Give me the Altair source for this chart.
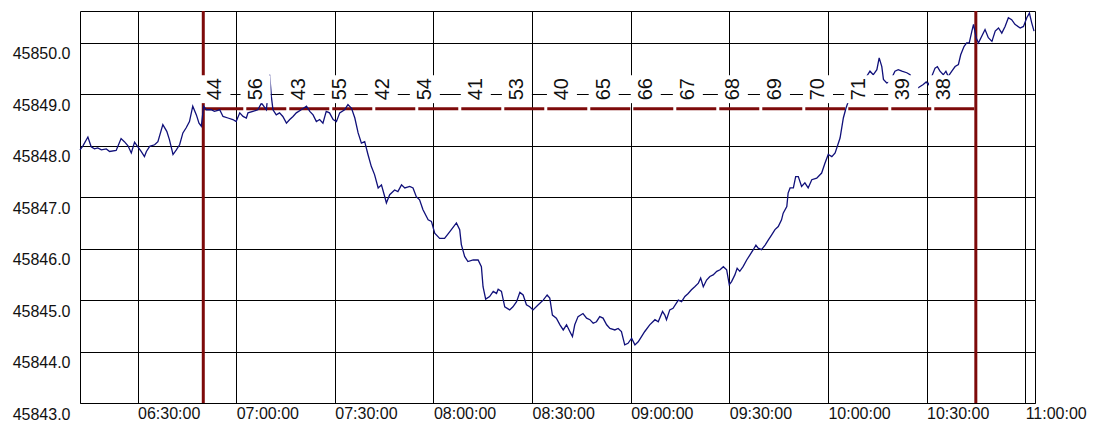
import altair as alt
import pandas as pd

# ---- data (minutes after 06:00, price) ----
minutes = [12.5, 13.4, 14.9, 15.9, 16.9, 17.9, 19.0, 20.5, 21.5, 23.5, 25.0, 26.0, 27.1, 28.1, 29.1,
           30.1, 31.1, 32.1, 32.7, 33.7, 35.2, 36.2, 37.7, 38.9, 39.7, 40.8, 41.8, 42.8, 43.8, 44.8,
           45.8, 46.8, 47.9, 48.7, 49.4, 50.1, 50.9, 52.4, 53.4, 55.0, 56.0, 57.5, 59.0, 60.0, 61.1,
           62.1, 63.1, 63.6, 65.1, 66.6, 67.7, 69.2, 70.2, 70.7,
           71.2, 72.2, 73.2, 74.2, 75.3, 76.3, 77.3, 78.3, 79.8, 81.4, 82.4, 83.4, 84.4, 85.4, 86.4,
           87.4, 88.4, 89.5, 90.5, 91.5, 93.0, 94.0, 95.1, 96.1, 97.1, 98.1, 99.1, 100.1, 101.1, 102.1,
           103.2, 104.2, 105.2, 105.7, 106.7, 108.2, 109.2, 110.3, 111.3, 112.8, 113.8, 114.8, 115.8,
           116.8, 118.4, 119.4, 120.4, 121.9, 123.4, 125.0, 127.0, 128.0,
           128.5, 129.5, 130.5, 132.1, 133.6, 134.6, 135.1, 135.9, 137.1, 138.2, 139.2, 139.7, 140.7,
           141.7, 143.2, 144.2, 145.3, 146.3, 147.3, 148.3, 149.3, 150.3, 151.9, 153.4, 154.6, 155.4,
           156.2, 157.4, 158.5, 159.5, 160.5, 161.5, 162.3, 163.0, 164.0, 165.5, 166.6, 167.6, 168.6,
           169.6, 170.6, 171.6, 172.7, 173.7, 175.2, 176.2, 177.2, 178.2, 179.2, 180.3, 181.3, 182.3,
           183.3, 184.3,
           185.8, 187.4, 188.4, 189.7, 190.4, 190.9, 191.9, 192.9, 194.5, 195.5, 196.5, 197.5, 198.5,
           199.5, 200.6, 201.3, 202.1, 203.1, 204.1, 205.1, 206.2, 207.2, 208.2, 209.2, 210.0, 210.7,
           211.7, 212.4, 213.2, 214.2, 215.3, 216.3, 217.3, 218.1, 218.8, 219.8, 220.9, 221.9, 222.9,
           223.9, 224.9, 225.9, 226.4, 227.5, 227.9, 228.5, 229.5, 230.2, 231.0, 232.0, 233.0, 234.0,
           235.1, 236.6, 238.1, 239.1, 240.1, 241.2, 242.2,
           243.7, 244.7, 245.5, 246.2, 248.9, 251.8, 252.8, 253.8, 254.9, 255.6, 256.4, 256.9, 257.9,
           258.9, 260.4, 261.4, 262.5, 264.0, 265.0, 266.5, 269.0, 269.9, 270.6, 272.6, 273.3, 274.1,
           275.1, 275.9, 276.6, 277.7, 278.7, 279.7, 280.4, 281.4, 282.2, 283.0, 283.8, 284.3, 285.1,
           285.8, 286.8, 287.8, 288.8, 289.9, 290.9, 291.9, 292.9, 293.9, 294.9, 295.9, 296.9, 298.5,
           299.5, 300.5, 301.3, 302.0, 302.7]

prices = [45847.92, 45848.00, 45848.17, 45847.98, 45847.94, 45847.96, 45847.92, 45847.94, 45847.89,
          45847.91, 45848.14, 45848.08, 45848.00, 45847.86, 45848.07, 45847.98, 45847.89, 45847.79,
          45847.89, 45847.99, 45848.02, 45848.08, 45848.41, 45848.28, 45848.12, 45847.83, 45847.92,
          45848.02, 45848.25, 45848.35, 45848.47, 45848.77, 45848.60, 45848.44, 45848.38, 45848.77,
          45848.70, 45848.70, 45848.67, 45848.70, 45848.57, 45848.54, 45848.51, 45848.47, 45848.64,
          45848.57, 45848.54, 45848.64, 45848.67, 45848.70, 45848.83, 45848.70, 45849.38, 45848.96,
          45848.70, 45848.60, 45848.64, 45848.57, 45848.44, 45848.51, 45848.57, 45848.64, 45848.70,
          45848.77, 45848.67, 45848.60, 45848.47, 45848.51, 45848.44, 45848.67, 45848.64, 45848.51,
          45848.47, 45848.64, 45848.70, 45848.80, 45848.73, 45848.54, 45848.25, 45848.05, 45848.08,
          45847.83, 45847.60, 45847.44, 45847.18, 45847.24, 45847.01, 45846.89, 45847.05, 45847.14,
          45847.11, 45847.24, 45847.18, 45847.21, 45847.18, 45847.01, 45846.95, 45846.76, 45846.56,
          45846.53, 45846.30, 45846.20, 45846.20, 45846.33, 45846.50, 45846.37,
          45846.08, 45845.85, 45845.75, 45845.78, 45845.78, 45845.65, 45845.26, 45845.02, 45845.07,
          45845.17, 45845.13, 45845.21, 45845.17, 45844.87, 45844.81, 45844.87, 45844.97, 45845.15,
          45845.10, 45844.91, 45844.87, 45844.81, 45844.91, 45845.00, 45845.10, 45845.04, 45844.71,
          45844.65, 45844.52, 45844.42, 45844.52, 45844.39, 45844.29, 45844.52, 45844.68, 45844.74,
          45844.65, 45844.62, 45844.55, 45844.58, 45844.68, 45844.65, 45844.52, 45844.45, 45844.42,
          45844.45, 45844.39, 45844.13, 45844.16, 45844.26, 45844.13, 45844.19, 45844.29, 45844.39,
          45844.52, 45844.62, 45844.58, 45844.78, 45844.71, 45844.62, 45844.81, 45844.84, 45845.00,
          45844.97, 45845.07, 45845.13, 45845.20, 45845.26, 45845.33, 45845.43, 45845.26, 45845.39,
          45845.46, 45845.49, 45845.56, 45845.59, 45845.65, 45845.59, 45845.30, 45845.36, 45845.49,
          45845.62, 45845.56, 45845.65, 45845.78, 45845.88, 45845.98, 45846.07, 45846.01, 45845.98,
          45846.07, 45846.17, 45846.27, 45846.37, 45846.43, 45846.56, 45846.69, 45846.82, 45847.08,
          45847.18, 45847.18, 45847.40, 45847.40, 45847.21, 45847.28, 45847.18, 45847.34, 45847.37,
          45847.47, 45847.66, 45847.83, 45847.79, 45847.86,
          45848.15, 45848.54, 45848.73, 45848.86, 45849.13, 45849.35, 45849.45, 45849.38, 45849.48,
          45849.71, 45849.54, 45849.29, 45849.22, 45849.25, 45849.45, 45849.48, 45849.45, 45849.42,
          45849.38, 45849.09, 45849.19, 45849.24, 45849.19, 45849.51, 45849.54, 45849.45, 45849.38,
          45849.45, 45849.35, 45849.45, 45849.54, 45849.58, 45849.77, 45849.93, 45850.00, 45850.00,
          45850.23, 45850.36, 45850.10, 45850.00, 45850.13, 45850.26, 45850.10, 45850.03, 45850.23,
          45850.29, 45850.19, 45850.32, 45850.49, 45850.45, 45850.36, 45850.29, 45850.32, 45850.49,
          45850.58, 45850.39, 45850.23]

level_labels = ["44", "56", "43", "55", "42", "54", "41", "53", "40", "65", "66", "67", "68", "69",
                "70", "71", "39", "38"]
level_minutes = [53.7, 65.9, 79.0, 91.5, 104.6, 117.4, 132.9, 145.4, 159.1, 171.8, 184.6, 197.4,
                 211.1, 223.9, 237.0, 249.5, 262.9, 275.3]
label_price = 45849.1

vline_minutes = [50.0, 285.0]
hline_price = 45848.72

y_ticks = [45843, 45844, 45845, 45846, 45847, 45848, 45849, 45850]
x_tick_hm = [(6, 30), (7, 0), (7, 30), (8, 0), (8, 30), (9, 0), (9, 30), (10, 0), (10, 30), (11, 0)]

# ---- tables ----
base = pd.Timestamp("2024-01-02 06:00:00")
to_t = lambda m: base + pd.to_timedelta(m, unit="min")

price_df = pd.DataFrame({"t": [to_t(m) for m in minutes], "p": prices})
lab_df = pd.DataFrame({"t": [to_t(m) for m in level_minutes], "p": [label_price] * len(level_labels),
                       "lab": level_labels})
vline_df = pd.DataFrame({"t": [to_t(m) for m in vline_minutes]})
hline_df = pd.DataFrame({"t": [to_t(vline_minutes[0])], "t2": [to_t(vline_minutes[1])], "p": [hline_price]})

DAY = dict(year=2024, month=1, date=2)
x_domain = [alt.DateTime(**DAY, hours=6, minutes=12, seconds=30), alt.DateTime(**DAY, hours=11, minutes=3)]
x_values = [alt.DateTime(**DAY, hours=h, minutes=m) for h, m in x_tick_hm]

FONT = "Liberation Sans"
x_scale = alt.Scale(domain=x_domain, nice=False)
y_scale = alt.Scale(domain=[45843, 45850.62], nice=False, zero=False)

x_axis = alt.Axis(values=x_values, format="%H:%M:%S", title=None, labelAlign="left", labelBaseline="top",
                  labelPadding=2, ticks=False, domain=False, grid=True, gridColor="#000", gridWidth=1,
                  labelFont=FONT, labelFontSize=16, labelColor="#111", labelFlush=False, labelOverlap=False)
y_axis = alt.Axis(values=y_ticks, format=".1f", title=None, labelAlign="right", labelBaseline="middle",
                  labelOffset=11, labelPadding=10, ticks=False, domain=False, grid=True, gridColor="#000",
                  gridWidth=1, labelFont=FONT, labelFontSize=16, labelColor="#111", labelOverlap=False)

RED = "#7d0a0a"

vlines = alt.Chart(vline_df).mark_rule(color=RED, strokeWidth=3).encode(
    x=alt.X("t:T", scale=x_scale, axis=x_axis))

hline = alt.Chart(hline_df).mark_rule(color=RED, strokeWidth=3, strokeDash=[40, 3]).encode(
    x=alt.X("t:T", scale=x_scale, axis=x_axis), x2="t2:T",
    y=alt.Y("p:Q", scale=y_scale, axis=y_axis))

line = alt.Chart(price_df).mark_line(color="#10107a", strokeWidth=1.3).encode(
    x=alt.X("t:T", scale=x_scale, axis=x_axis),
    y=alt.Y("p:Q", scale=y_scale, axis=y_axis))

boxes = alt.Chart(lab_df).mark_point(shape="M-1,-0.93H1V0.93H-1Z", size=900, filled=True,
                                     fill="white", opacity=1, strokeWidth=0).encode(
    x=alt.X("t:T", scale=x_scale, axis=x_axis),
    y=alt.Y("p:Q", scale=y_scale, axis=y_axis))

texts = alt.Chart(lab_df).mark_text(angle=270, font=FONT, fontSize=20, color="#111",
                                    align="center", baseline="middle").encode(
    x=alt.X("t:T", scale=x_scale, axis=x_axis),
    y=alt.Y("p:Q", scale=y_scale, axis=y_axis),
    text="lab:N")

chart = alt.layer(vlines, hline, line, boxes, texts).properties(
    width=955, height=392,
    padding={"left": 72, "top": 3, "right": 52, "bottom": 20},
    autosize=alt.AutoSizeParams(type="none"),
    background="white",
).configure_view(stroke="#000", strokeWidth=1)

chart.save("out.html", embed_options={"renderer": "svg", "actions": False})
